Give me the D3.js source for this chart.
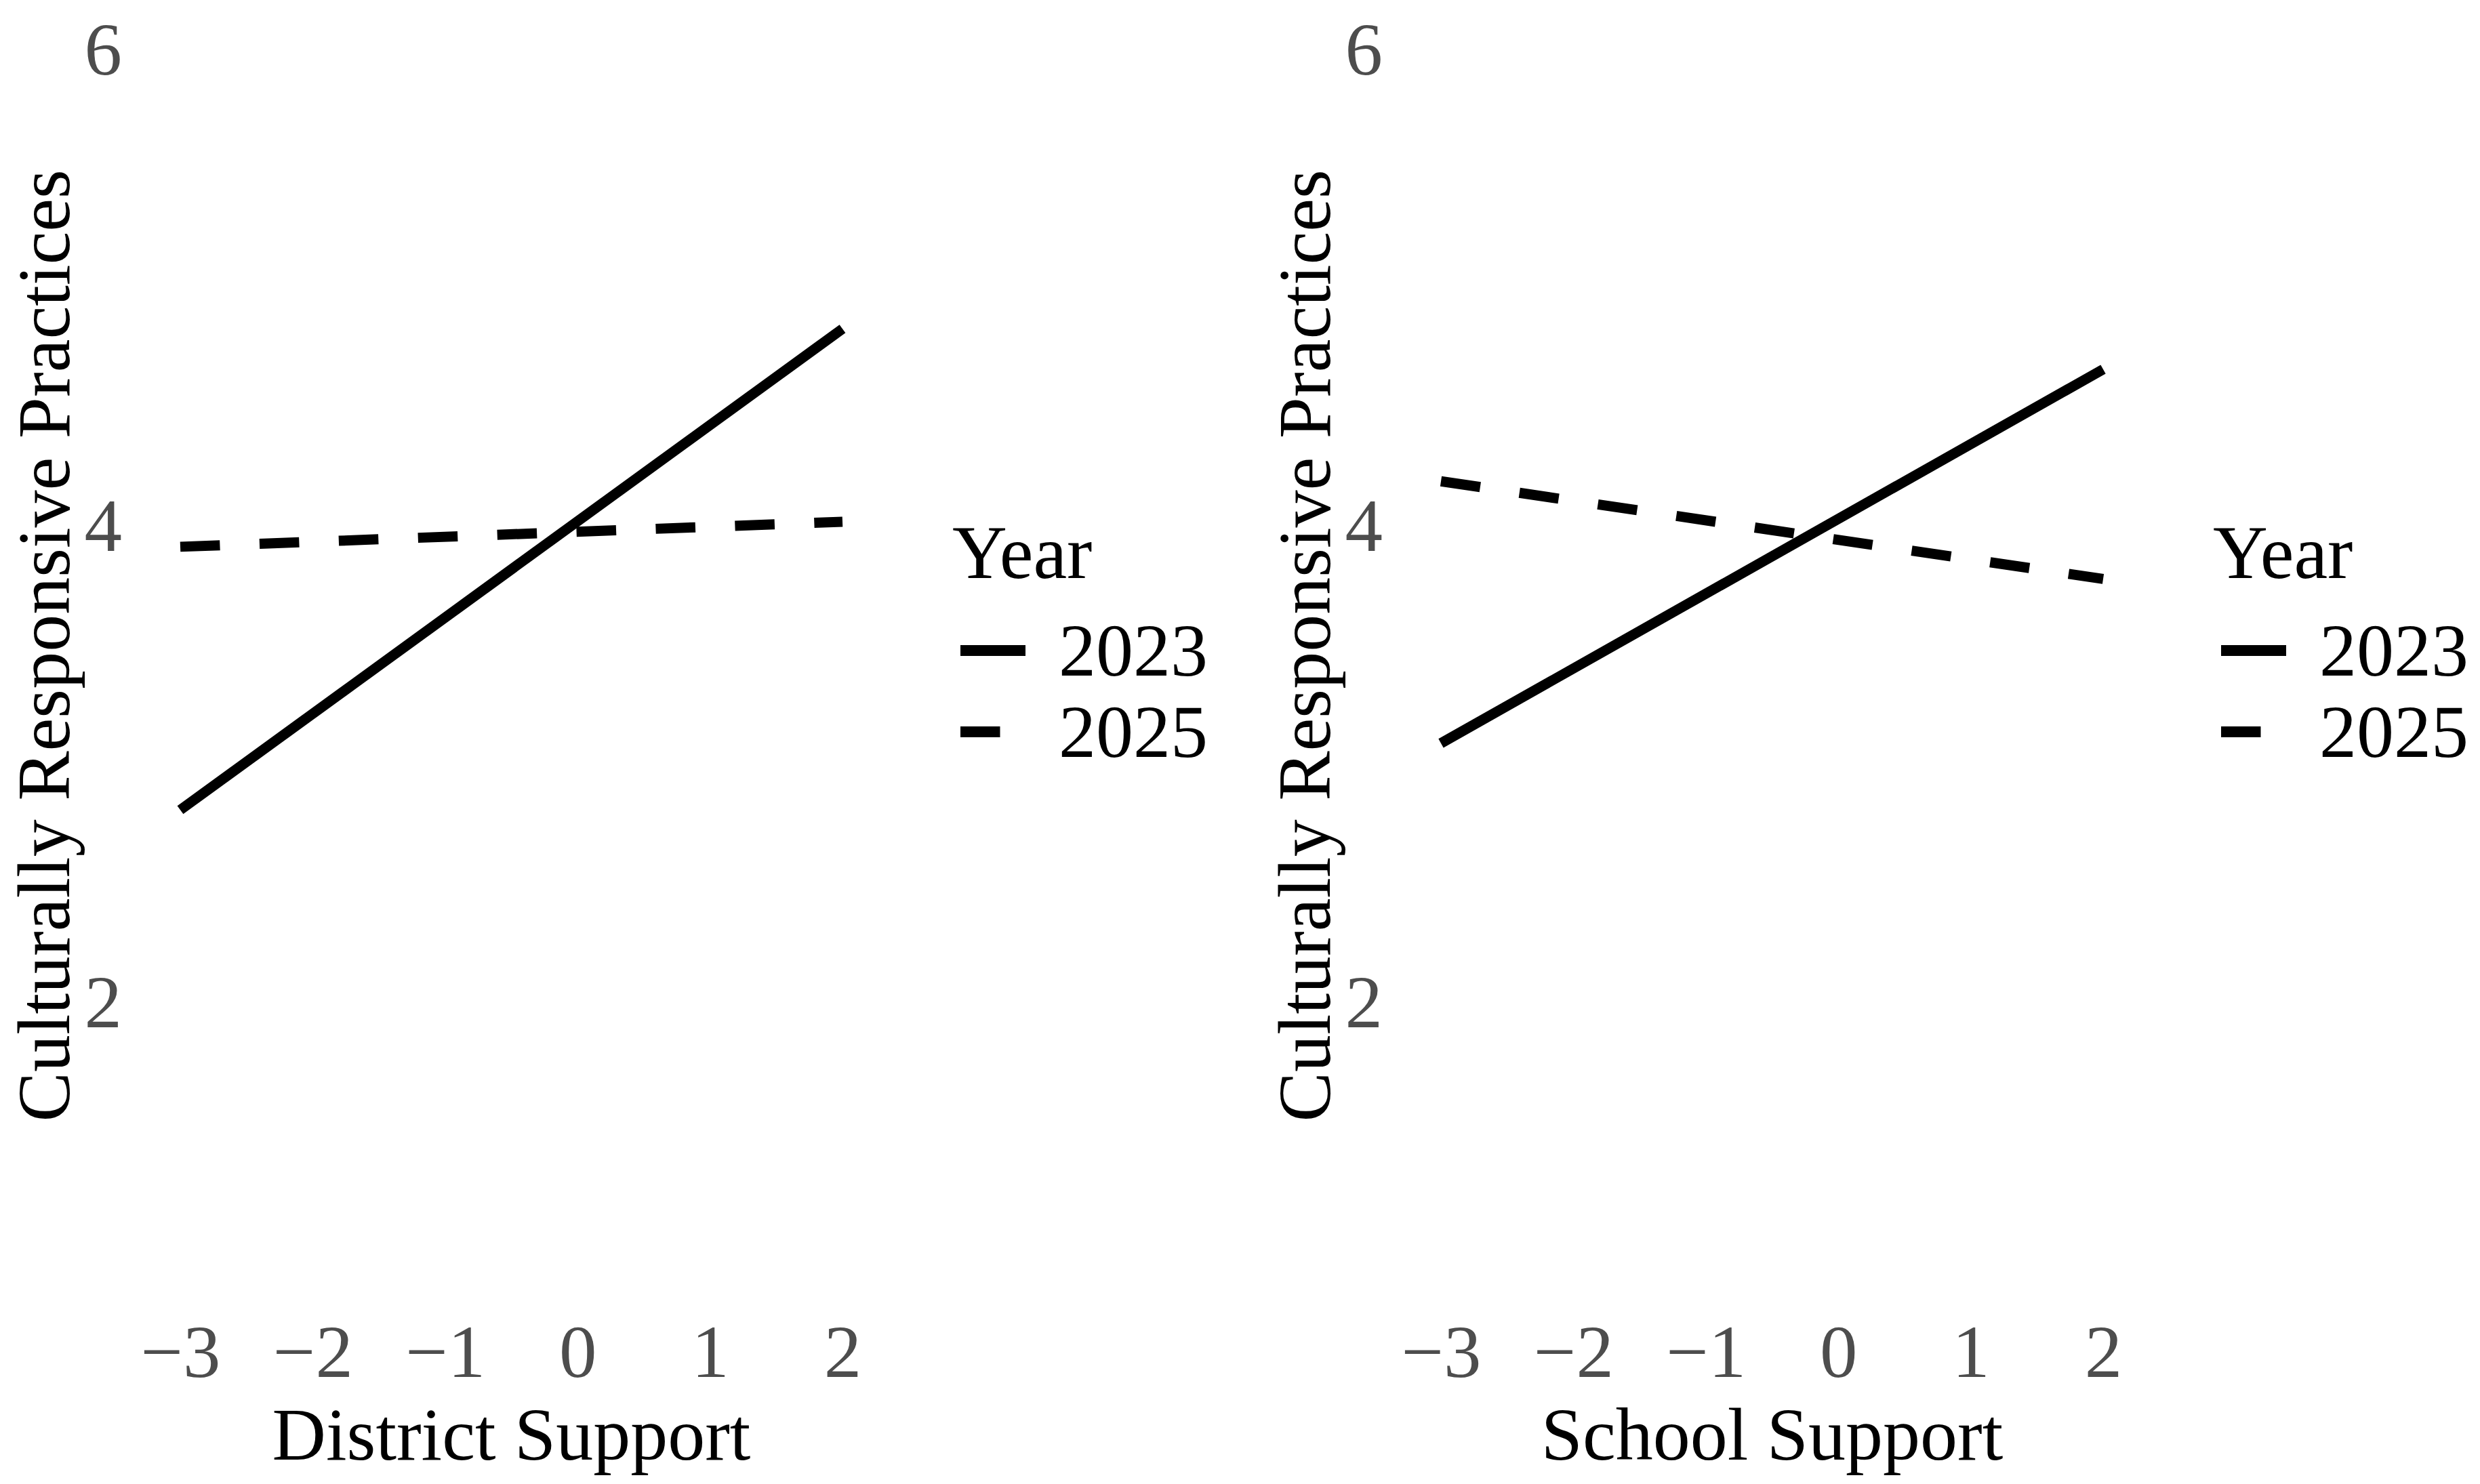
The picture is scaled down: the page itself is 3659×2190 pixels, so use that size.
<!DOCTYPE html>
<html><head><meta charset="utf-8">
<script src="https://cdn.jsdelivr.net/npm/d3@7"></script>
<style>html,body{margin:0;padding:0;background:#fff;} svg{display:block}</style>
</head><body>
<script>
// ---- data ----
const xTicks = [-3, -2, -1, 0, 1, 2];
const yTicks = [2, 4, 6];
const years = ["2023", "2025"];
const xEnds = [-3, 2];
const districtValues2023 = [2.81, 4.83];
const districtValues2025 = [3.915, 4.02];
const schoolValues2023 = [3.09, 4.66];
const schoolValues2025 = [4.19, 3.78];
const panelTitles = ["District Support", "School Support"];
const yTitle = "Culturally Responsive Practices";
const legendTitle = "Year";

// ---- layout ----
const W = 3659, H = 2190;
const font = "'Liberation Serif','Times New Roman',Times,serif";
const svg = d3.select("body").append("svg").attr("width", W).attr("height", H)
  .style("font-family", font);
svg.append("rect").attr("width", W).attr("height", H).attr("fill", "#fff");

const panels = [
  { title: panelTitles[0], series: [districtValues2023, districtValues2025], dx: 0 },
  { title: panelTitles[1], series: [schoolValues2023, schoolValues2025], dx: 1860 }
];
const dashes = [null, "58.5,58.5"];
const lw = 15;
const tickSize = 111, titleSize = 110;

const y = d3.scaleLinear().domain([2, 6]).range([1480, 74]);
const x = d3.scaleLinear().domain([-3, 2]).range([266, 1243]);

panels.forEach(p => {
  const g = svg.append("g").attr("transform", `translate(${p.dx},0)`);

  // y axis
  const ya = g.append("g").attr("transform", "translate(180,0)")
    .call(d3.axisLeft(y).tickValues(yTicks).tickSize(0).tickPadding(0).tickFormat(d3.format("d")));
  ya.select(".domain").remove();
  ya.selectAll("text").attr("font-size", tickSize).attr("fill", "#4D4D4D").attr("font-family", font);

  // x axis
  const xa = g.append("g").attr("transform", "translate(0,1953)")
    .call(d3.axisBottom(x).tickValues(xTicks).tickSize(0).tickPadding(0).tickFormat(d3.format("d")));
  xa.select(".domain").remove();
  xa.selectAll("text").attr("font-size", tickSize).attr("fill", "#4D4D4D").attr("font-family", font);

  // titles
  g.append("text").attr("x", x(-0.5)).attr("y", 2154).attr("text-anchor", "middle")
    .attr("font-size", titleSize).attr("fill", "#000").text(p.title);
  g.append("text").attr("transform", `translate(102,${y(3.5)}) rotate(-90)`)
    .attr("text-anchor", "middle").attr("font-size", titleSize).attr("fill", "#000").text(yTitle);

  // lines
  const line = d3.line().x((d, i) => x(xEnds[i])).y(d => y(d));
  p.series.forEach((s, k) => {
    g.append("path").attr("d", line(s)).attr("fill", "none")
      .attr("stroke", "#000").attr("stroke-width", lw)
      .attr("stroke-linecap", "butt")
      .attr("stroke-dasharray", dashes[k]);
  });

  // legend
  const lg = g.append("g");
  lg.append("text").attr("x", 1405).attr("y", 853).attr("font-size", 112).attr("fill", "#000").text(legendTitle);
  years.forEach((yr, k) => {
    const cy = 960 + k * 120;
    lg.append("line").attr("x1", 1417).attr("x2", 1513).attr("y1", cy).attr("y2", cy)
      .attr("stroke", "#000").attr("stroke-width", 16).attr("stroke-dasharray", dashes[k]);
    lg.append("text").attr("x", 1562).attr("y", cy + 37).attr("font-size", 110).attr("fill", "#000").text(yr);
  });
});
</script>
</body></html>
